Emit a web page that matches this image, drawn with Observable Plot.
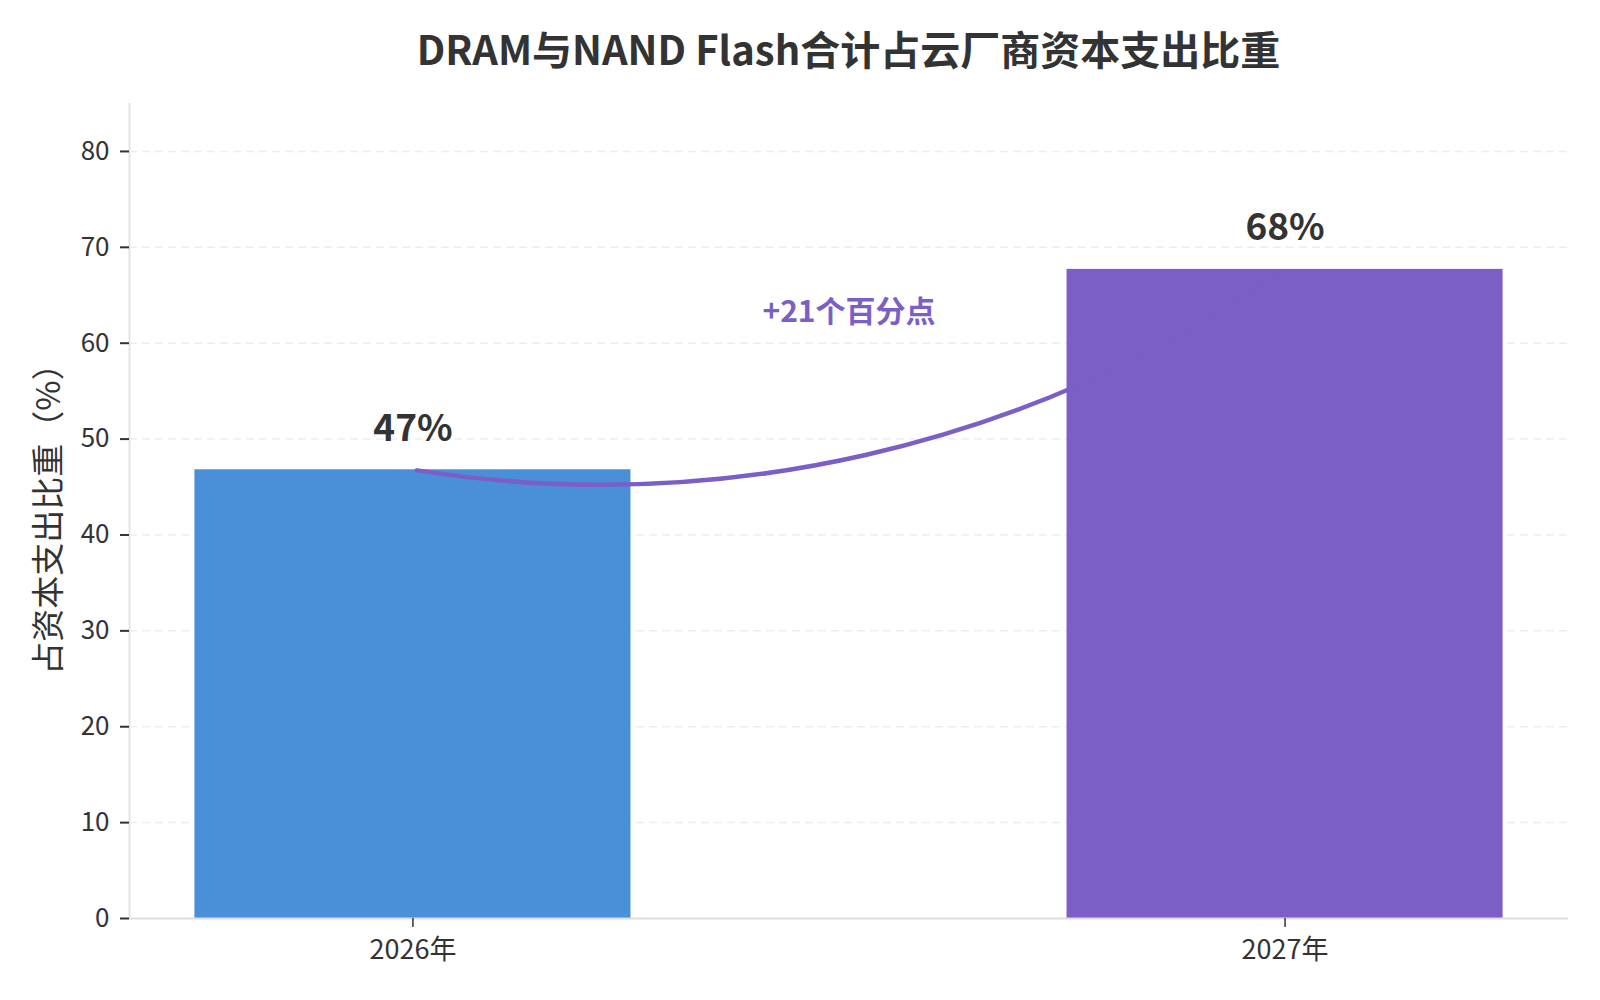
<!DOCTYPE html>
<html>
<head>
<meta charset="utf-8">
<script src="https://cdn.jsdelivr.net/npm/d3@7"></script>
<script src="https://cdn.jsdelivr.net/npm/@observablehq/plot@0.6"></script>
<style>
  body { margin: 0; background: #fff; }
  #wrap { width: 1600px; font-family: "Noto Sans CJK SC", "Noto Sans", sans-serif; color: #333; }
  #title { margin-left: 129px; width: 1439px; height: 96px; line-height: 96px; text-align: center; font-size: 40px; font-weight: bold; color: #333; }
</style>
</head>
<body>
<div id="wrap">
  <div id="title">DRAM与NAND Flash合计占云厂商资本支出比重</div>
  <div id="chart"></div>
</div>
<script>
const categories = ["2026年", "2027年"];
const values = [46.8, 67.7];
const barColors = ["#4A90D9", "#7B5FC6"];
const yTicks = [0, 10, 20, 30, 40, 50, 60, 70, 80];
const yLabel = "占资本支出比重（%）";
const annotationY = 63.2;

const rows = categories.map((c, i) => ({ c, i, v: values[i], label: Math.round(values[i]) + "%", color: barColors[i] }));
const diff = Math.round(values[1] - values[0]);
const diffLabel = "+" + diff + "个百分点";
const xDomain = [-0.325, 1.325];
const accent = "#7B5FC6";

const chart = Plot.plot({
  width: 1600,
  height: 904,
  marginTop: 7,
  marginBottom: 82,
  marginLeft: 129,
  marginRight: 32,
  style: { fontFamily: '"Noto Sans CJK SC", "Noto Sans", sans-serif', color: "#333", background: "#fff" },
  x: { type: "linear", domain: xDomain, axis: null },
  y: { domain: [0, 85], axis: null },
  marks: [
    Plot.gridY(yTicks.filter(d => d > 0), { stroke: "#eeeeee", strokeOpacity: 1, strokeWidth: 1.5, strokeDasharray: "8,5" }),
    Plot.rectY(rows, { x1: d => d.i - 0.25, x2: d => d.i + 0.25, y: "v", fill: "color" }),
    Plot.arrow([{ x1: 0, y1: values[0], x2: 1, y2: values[1] }], {
      x1: "x1", y1: "y1", x2: "x2", y2: "y2",
      bend: -22, headLength: 0, insetStart: 4, insetEnd: 10, stroke: accent, strokeWidth: 4.5
    }),
    Plot.text(rows, { x: "i", y: "v", text: "label", dy: -41, fontSize: 37, fontWeight: "bold", fill: "#333" }),
    Plot.text([diffLabel], { x: () => 0.5, y: () => annotationY, text: d => d, fontSize: 30, fontWeight: "bold", fill: accent }),
    Plot.ruleY([0], { stroke: "#dddddd", strokeWidth: 2 }),
    Plot.ruleX([xDomain[0]], { y1: 0, y2: 85, stroke: "#e3e3e3", strokeWidth: 2 }),
    Plot.axisY({ ticks: yTicks, tickSize: 9, tickPadding: 11, fontSize: 26, stroke: "#333", strokeWidth: 2, fill: "#333", label: null }),
    Plot.axisX({ ticks: [0, 1], tickFormat: i => categories[i], tickSize: 9, tickPadding: 12, fontSize: 27, stroke: "#333", strokeWidth: 1.5, fill: "#333", label: null }),
    Plot.text([yLabel], { frameAnchor: "left", textAnchor: "middle", rotate: -90, dx: -80, text: d => d, fontSize: 33, fill: "#333" })
  ]
});
document.getElementById("chart").appendChild(chart);
</script>
</body>
</html>
